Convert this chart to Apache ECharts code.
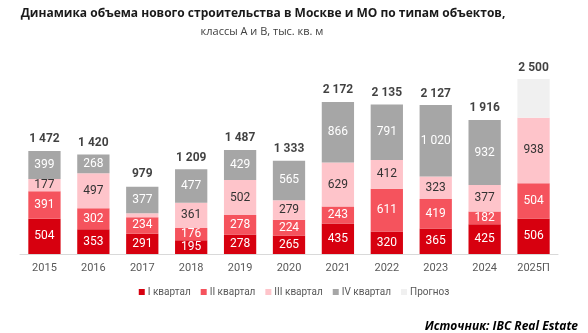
<!DOCTYPE html>
<html><head><meta charset="utf-8">
<script src="https://cdn.jsdelivr.net/npm/echarts@6/dist/echarts.min.js"></script>
<style>html,body{margin:0;padding:0;background:#fff}#c{width:588px;height:333px}</style>
</head><body><div id="c"></div>
<script>
var categories = ['2015','2016','2017','2018','2019','2020','2021','2022','2023','2024','2025П'];
var q1 = [504,353,291,195,278,265,435,320,365,425,506];
var q2 = [391,302,234,176,278,224,243,611,419,182,504];
var q3 = [177,497,57,361,502,279,629,412,323,377,938];
var q4 = [399,268,377,477,429,565,866,791,1020,932,'-'];
var forecast = ['-','-','-','-','-','-','-','-','-','-',552];
var totals = [1472,1420,979,1209,1487,1333,2172,2135,2127,1916,2500];
var seriesNames = ['I квартал','II квартал','III квартал','IV квартал','Прогноз'];

function fmt(v){ return String(v).replace(/\B(?=(\d{3})+(?!\d))/g,' '); }
var font = 'Roboto';
function seg(name, data, color, labelColor, showLabel){
  return {
    name: name, type: 'bar', stack: 'a', data: data, barWidth: '66%',
    itemStyle: {color: color},
    label: {show: showLabel, position: 'inside', color: labelColor, fontSize: 12, fontFamily: font,
      formatter: function(p){ return (p.value==null||p.value==='-'||p.value<80)? '' : fmt(p.value); }},
    emphasis: {disabled: true}
  };
}
var chart = echarts.init(document.getElementById('c'));
chart.setOption({
  animation: false,
  title: [
    {text: 'Динамика объема нового строительства в Москве и МО по типам объектов,', left: 258, textAlign: 'center', top: 3,
     textStyle: {fontFamily: 'Open Sans', fontWeight: 'bold', fontSize: 12, color: '#1a1a1a'}},
    {text: 'классы А и В, тыс. кв. м', left: 257, textAlign: 'center', top: 21,
     textStyle: {fontFamily: 'Open Sans', fontWeight: 'normal', fontSize: 11, color: '#404040'}},
    {text: 'Источник: IBC Real Estate', right: 5, top: 316,
     textStyle: {fontFamily: 'Open Sans', fontStyle: 'italic', fontWeight: 'bold', fontSize: 12, color: '#000'}}
  ],
  legend: {
    data: seriesNames, bottom: 31, left: 'center', itemWidth: 6, itemHeight: 6, itemGap: 10,
    icon: 'rect', textStyle: {fontFamily: font, fontSize: 10, color: '#595959', padding: [0,0,0,-2]}
  },
  grid: {left: 20, right: 30, top: 79, bottom: 79, containLabel: false},
  xAxis: {
    type: 'category', data: categories,
    axisLine: {lineStyle: {color: '#d9d9d9', width: 1}}, axisTick: {show: false},
    axisLabel: {color: '#595959', fontFamily: font, fontSize: 11, margin: 9}
  },
  yAxis: {type: 'value', min: 0, max: 2500, show: false, splitLine: {show: false}},
  series: [
    seg(seriesNames[0], q1, '#d7000f', '#fff', true),
    seg(seriesNames[1], q2, '#f5535d', '#fff', true),
    seg(seriesNames[2], q3, '#fec4ca', '#333', true),
    seg(seriesNames[3], q4, '#a6a6a6', '#fff', true),
    seg(seriesNames[4], forecast, '#f0f0f0', '#333', false),
    {type: 'scatter', data: totals, symbolSize: 1, itemStyle: {color: 'rgba(0,0,0,0)'},
     label: {show: true, position: 'top', distance: 5, color: '#111', fontWeight: 'bold', fontSize: 12, fontFamily: font,
       formatter: function(p){ return fmt(p.value); }},
     emphasis: {disabled: true}, z: 5}
  ]
});
</script></body></html>
